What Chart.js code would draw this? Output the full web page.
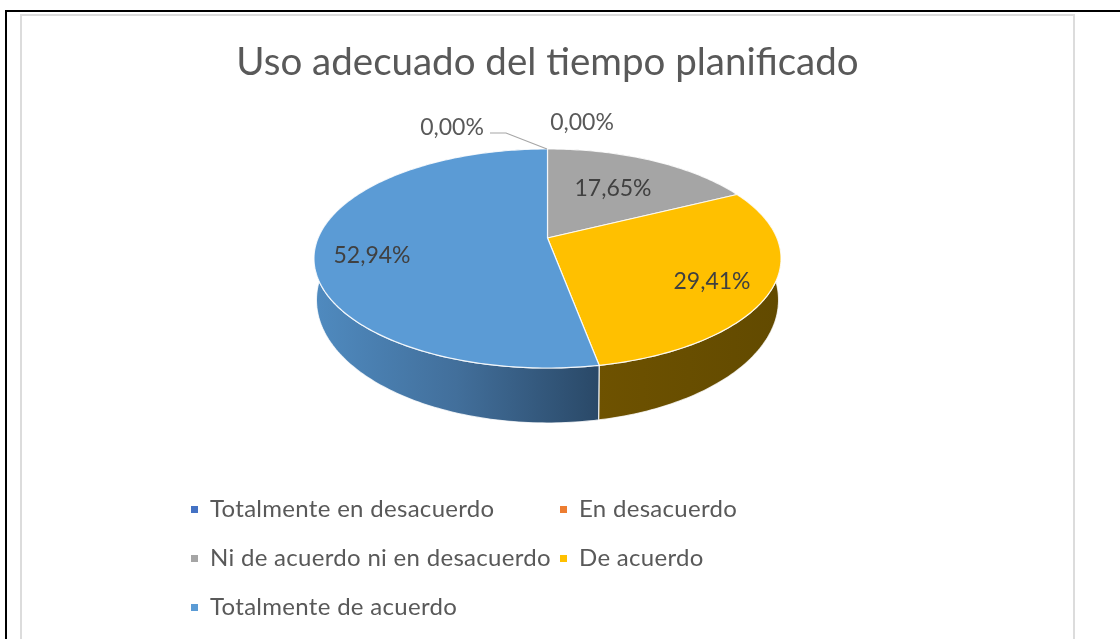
<!DOCTYPE html>
<html>
<head>
<meta charset="utf-8">
<title>Uso adecuado del tiempo planificado</title>
<script src="https://cdn.jsdelivr.net/npm/chart.js@4/dist/chart.umd.min.js"></script>
<style>
html, body { margin: 0; padding: 0; background: #fff; overflow: hidden; }
#page { position: relative; width: 1120px; height: 639px; overflow: hidden; }
#outer { position: absolute; left: 5px; top: 10px; width: 1200px; height: 800px; border: 2px solid #000; }
#inner { position: absolute; left: 20px; top: 14px; width: 1051px; height: 800px; border: 2px solid #dcdcdc; }
canvas { position: absolute; left: 0; top: 0; filter: blur(0.5px); }
</style>
</head>
<body>
<div id="page">
  <div id="outer"></div>
  <div id="inner"></div>
  <canvas id="pieChart" width="1120" height="639"></canvas>
</div>
<script>
var titleText = 'Uso adecuado del tiempo planificado';
var categories = ['Totalmente en desacuerdo', 'En desacuerdo', 'Ni de acuerdo ni en desacuerdo', 'De acuerdo', 'Totalmente de acuerdo'];
var values = [0, 0, 17.65, 29.41, 52.94];
var colors = ['#4472c4', '#ed7d31', '#a5a5a5', '#ffc000', '#5b9bd5'];

// where the labels and legend sit
var labelSpots = [[452, 128], [582, 123], [613, 189], [712, 282], [372, 256]];
var legendSpots = [[191, 509], [560, 509], [191, 558], [560, 558], [191, 607]];

// perspective of the tilted pie, top face and bottom rim
var topFace = { x: 547.5, y: 238, a: 229.4, b: 105.7, k: 0.187 };
var bottomRim = { x: 547.5, y: 277, a: 227, b: 118.7, k: 0.187 };

function project(view, theta) {
    var u = Math.sin(theta), v = Math.cos(theta);
    var d = 1 + view.k * v;
    return [view.x + view.a * u / d, view.y - view.b * v / d];
}

function rimPoints(view, from, to) {
    var pts = [];
    var n = Math.max(2, Math.ceil((to - from) / 0.017));
    for (var i = 0; i <= n; i++) {
        pts.push(project(view, from + (to - from) * i / n));
    }
    return pts;
}

function wallFill(ctx, index) {
    var g;
    if (index === 4) {
        g = ctx.createLinearGradient(316, 0, 597, 0);
        g.addColorStop(0, '#4f8abf');
        g.addColorStop(0.5, '#426f9b');
        g.addColorStop(1, '#2a4968');
    } else if (index === 3) {
        g = ctx.createLinearGradient(597, 0, 780, 0);
        g.addColorStop(0, '#6e5200');
        g.addColorStop(1, '#624a00');
    } else {
        g = '#636363';
    }
    return g;
}

var pie3d = {
    id: 'pie3d',
    beforeDatasetDraw: function(chart, args) {
        var ctx = chart.ctx;
        var arcs = chart.getDatasetMeta(args.index).data;
        var slices = [];
        arcs.forEach(function(arc, i) {
            if (values[i] > 0) {
                // library angles start at -PI/2, shift so 0 is twelve o'clock
                slices.push({ i: i, from: arc.startAngle + Math.PI / 2, to: arc.endAngle + Math.PI / 2 });
            }
        });
        ctx.save();
        ctx.lineJoin = 'round';
        // side walls first
        slices.forEach(function(s) {
            var upper = rimPoints(topFace, s.from, s.to);
            var lower = rimPoints(bottomRim, s.from, s.to).reverse();
            ctx.beginPath();
            upper.concat(lower).forEach(function(p, j) {
                if (j === 0) ctx.moveTo(p[0], p[1]); else ctx.lineTo(p[0], p[1]);
            });
            ctx.closePath();
            ctx.fillStyle = wallFill(ctx, s.i);
            ctx.fill();
            ctx.strokeStyle = 'rgba(255,255,255,0.8)';
            ctx.lineWidth = 1.2;
            ctx.stroke();
        });
        // then the top face
        slices.forEach(function(s) {
            ctx.beginPath();
            ctx.moveTo(topFace.x, topFace.y);
            rimPoints(topFace, s.from, s.to).forEach(function(p) { ctx.lineTo(p[0], p[1]); });
            ctx.closePath();
            ctx.fillStyle = colors[s.i];
            ctx.fill();
            ctx.strokeStyle = 'rgba(255,255,255,0.85)';
            ctx.lineWidth = 1.2;
            ctx.stroke();
        });
        ctx.restore();
        return false;
    },
    afterDraw: function(chart) {
        var ctx = chart.ctx;
        ctx.save();
        // leader line for the first empty slice
        ctx.beginPath();
        ctx.moveTo(490, 133);
        ctx.lineTo(506, 133);
        ctx.lineTo(547, 149);
        ctx.strokeStyle = '#a6a6a6';
        ctx.lineWidth = 1.2;
        ctx.stroke();

        ctx.textBaseline = 'middle';
        ctx.textAlign = 'center';
        ctx.font = '23px Lato';
        values.forEach(function(v, i) {
            ctx.fillStyle = v > 0 ? '#404040' : '#595959';
            ctx.fillText(v.toFixed(2).replace('.', ',') + '%', labelSpots[i][0], labelSpots[i][1]);
        });

        ctx.textAlign = 'left';
        ctx.font = '24px Lato';
        ctx.letterSpacing = '0.3px';
        categories.forEach(function(name, i) {
            var spot = legendSpots[i];
            ctx.fillStyle = colors[i];
            ctx.fillRect(spot[0], spot[1] - 3, 7, 7);
            ctx.fillStyle = '#595959';
            ctx.fillText(name, spot[0] + 19, spot[1]);
        });
        ctx.restore();
    }
};

new Chart(document.getElementById('pieChart').getContext('2d'), {
    type: 'pie',
    data: {
        labels: categories,
        datasets: [{
            data: values,
            backgroundColor: colors
        }]
    },
    options: {
        responsive: false,
        animation: false,
        layout: { padding: { top: 39, right: 25 } },
        plugins: {
            legend: { display: false },
            tooltip: { enabled: false },
            title: {
                display: true,
                text: titleText,
                color: '#595959',
                font: { family: 'Lato', size: 38.5, weight: 'normal' },
                padding: 0
            }
        }
    },
    plugins: [pie3d]
});
</script>
</body>
</html>
